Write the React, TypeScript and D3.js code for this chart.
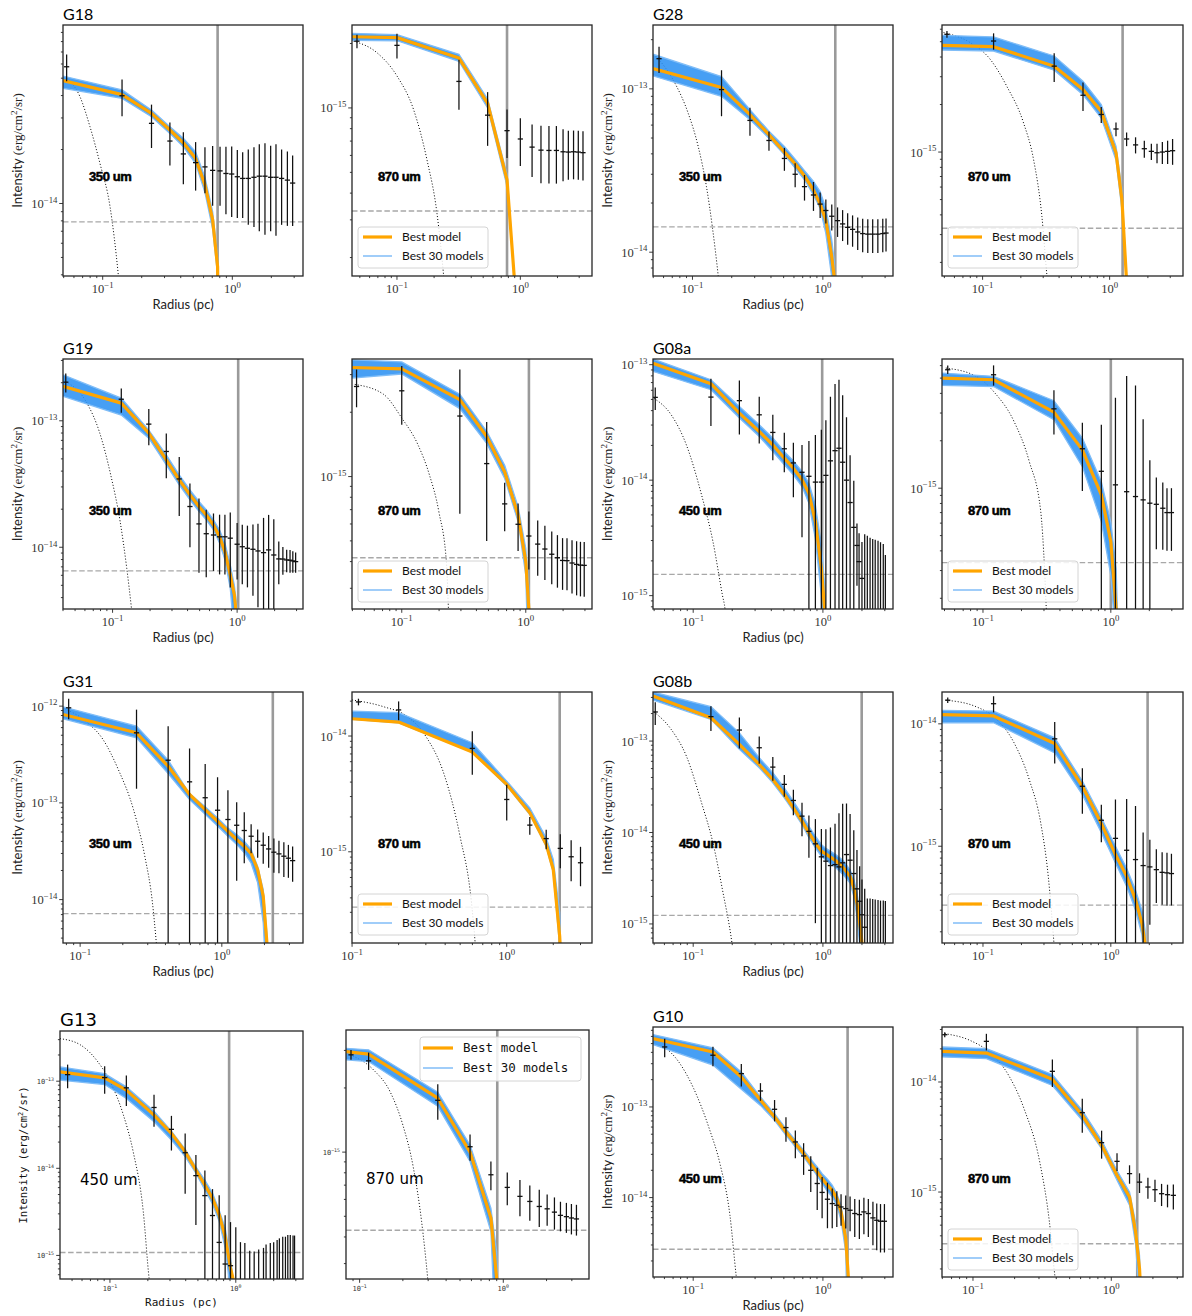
import React from "react";
import * as d3 from "d3";

// Radial intensity profiles: observed points [radius pc, intensity, 1-sigma error],
// best-fit model, envelope of the 30 best models, and the beam profile.
type Obs = [number, number, number];
type XY = [number, number];

// ---------- G18 ----------
const g18_350_obs: Obs[] = [
  [0.0527, 5.79e-14, 0.98e-14], [0.141, 3.99e-14, 0.92e-14], [0.238, 2.8e-14, 0.76e-14],
  [0.33, 2.23e-14, 0.6e-14], [0.419, 1.89e-14, 0.61e-14], [0.521, 1.69e-14, 0.51e-14],
  [0.615, 1.6e-14, 0.46e-14], [0.705, 1.53e-14, 0.56e-14], [0.804, 1.52e-14, 0.55e-14],
  [0.893, 1.47e-14, 0.6e-14], [0.989, 1.46e-14, 0.62e-14], [1.093, 1.41e-14, 0.58e-14],
  [1.202, 1.38e-14, 0.55e-14], [1.328, 1.38e-14, 0.62e-14], [1.469, 1.4e-14, 0.66e-14],
  [1.615, 1.42e-14, 0.72e-14], [1.786, 1.42e-14, 0.75e-14], [1.976, 1.4e-14, 0.7e-14],
  [2.172, 1.4e-14, 0.74e-14], [2.4, 1.38e-14, 0.62e-14], [2.66, 1.35e-14, 0.6e-14],
  [2.92, 1.3e-14, 0.55e-14],
];
const g18_350_r = [0.0494, 0.141, 0.238, 0.33, 0.419, 0.521, 0.615, 0.705, 0.77, 0.8];
const g18_350_best = [4.85e-14, 4.05e-14, 3.18e-14, 2.57e-14, 2.18e-14, 1.78e-14, 1.27e-14, 8.1e-15, 4.43e-15, 1e-16];
const g18_350_hi = [5.14e-14, 4.3e-14, 3.32e-14, 2.68e-14, 2.31e-14, 1.94e-14, 1.4e-14, 9.0e-15, 5.0e-15, 1e-16];
const g18_350_lo = [4.39e-14, 3.86e-14, 3.05e-14, 2.46e-14, 2.07e-14, 1.67e-14, 1.15e-14, 7.2e-15, 4.0e-15, 1e-16];
const g18_350_beam: XY[] = [[0.0527, 4.99e-14], [0.0668, 3.94e-14], [0.0798, 2.68e-14], [0.0953, 1.67e-14], [0.114, 9.57e-15], [0.132, 3.98e-15], [0.14, 2.5e-15]];

const g18_870_obs: Obs[] = [
  [0.0474, 2.05e-15, 0.15e-15], [0.1, 1.96e-15, 0.26e-15], [0.318, 1.33e-15, 0.35e-15],
  [0.543, 9.25e-16, 2.6e-16], [0.78, 7.83e-16, 2.0e-16], [1.0, 7.16e-16, 1.8e-16],
  [1.245, 6.56e-16, 1.8e-16], [1.47, 6.35e-16, 1.9e-16], [1.706, 6.33e-16, 1.9e-16],
  [1.96, 6.33e-16, 1.9e-16], [2.22, 6.24e-16, 1.7e-16], [2.45, 6.22e-16, 1.6e-16],
  [2.7, 6.24e-16, 1.6e-16], [2.95, 6.22e-16, 1.6e-16], [3.22, 6.18e-16, 1.6e-16],
];
const g18_870_r = [0.0432, 0.1, 0.318, 0.543, 0.78, 0.95];
const g18_870_best = [2.15e-15, 2.13e-15, 1.71e-15, 1.05e-15, 4.61e-16, 1e-16];
const g18_870_hi = [2.23e-15, 2.2e-15, 1.78e-15, 1.1e-15, 4.9e-16, 1e-16];
const g18_870_lo = [2.07e-15, 2.06e-15, 1.65e-15, 1.0e-15, 4.3e-16, 1e-16];
const g18_870_beam: XY[] = [[0.0445, 2.05e-15], [0.0689, 1.81e-15], [0.1, 1.41e-15], [0.1365, 9.8e-16], [0.175, 5.73e-16], [0.211, 3.22e-16], [0.239, 1.64e-16], [0.25, 1.2e-16]];

// ---------- G28 ----------
const g28_350_obs: Obs[] = [
  [0.0554, 1.53e-13, 0.28e-13], [0.167, 9.9e-14, 3.1e-14], [0.276, 6.41e-14, 1.25e-14],
  [0.386, 4.83e-14, 6.5e-15], [0.507, 3.75e-14, 6e-15], [0.613, 3.0e-14, 5e-15],
  [0.723, 2.52e-14, 4.5e-15], [0.847, 2.24e-14, 4.5e-15], [0.953, 1.97e-14, 3.5e-15],
  [1.054, 1.8e-14, 3e-15], [1.17, 1.66e-14, 3e-15], [1.296, 1.56e-14, 3.2e-15],
  [1.417, 1.49e-14, 3.2e-15], [1.549, 1.42e-14, 3.1e-15], [1.69, 1.38e-14, 3e-15],
  [1.85, 1.33e-14, 3e-15], [2.02, 1.3e-14, 3e-15], [2.21, 1.29e-14, 3e-15],
  [2.41, 1.29e-14, 3e-15], [2.64, 1.29e-14, 3e-15], [2.88, 1.3e-14, 3e-15], [3.05, 1.31e-14, 3e-15],
];
const g28_350_r = [0.0498, 0.167, 0.276, 0.386, 0.507, 0.613, 0.723, 0.847, 0.953, 1.054, 1.17, 1.22, 1.3];
const g28_350_best = [1.33e-13, 1.02e-13, 6.95e-14, 5.24e-14, 4.1e-14, 3.48e-14, 2.93e-14, 2.4e-14, 1.97e-14, 1.57e-14, 9.35e-15, 7.1e-15, 1e-15];
const g28_350_hi = [1.63e-13, 1.19e-13, 7.46e-14, 5.5e-14, 4.44e-14, 3.71e-14, 3.16e-14, 2.71e-14, 2.35e-14, 1.86e-14, 1.19e-14, 8.9e-15, 1e-15];
const g28_350_lo = [1.2e-13, 9.0e-14, 6.48e-14, 4.99e-14, 3.95e-14, 3.27e-14, 2.77e-14, 2.24e-14, 1.86e-14, 1.3e-14, 7e-15, 1e-15, 1e-15];
const g28_350_beam: XY[] = [[0.0507, 1.63e-13], [0.0731, 1.09e-13], [0.0926, 7.11e-14], [0.1106, 4.44e-14], [0.128, 2.52e-14], [0.142, 1.43e-14], [0.1576, 7.15e-15], [0.165, 5e-15]];

const g28_870_obs: Obs[] = [
  [0.0524, 5.57e-15, 0.27e-15], [0.122, 5.05e-15, 0.6e-15], [0.366, 3.5e-15, 0.72e-15],
  [0.617, 2.29e-15, 0.47e-15], [0.859, 1.73e-15, 0.2e-15], [1.122, 1.4e-15, 0.14e-15],
  [1.36, 1.21e-15, 0.12e-15], [1.6, 1.11e-15, 0.13e-15], [1.875, 1.05e-15, 0.13e-15],
  [2.13, 1.01e-15, 0.12e-15], [2.36, 0.99e-15, 0.14e-15], [2.6, 1.0e-15, 0.16e-15],
  [2.86, 1.01e-15, 0.17e-15], [3.13, 1.02e-15, 0.19e-15],
];
const g28_870_r = [0.0479, 0.122, 0.366, 0.617, 0.859, 1.122, 1.25, 1.4];
const g28_870_best = [4.74e-15, 4.65e-15, 3.5e-15, 2.49e-15, 1.81e-15, 0.99e-15, 4.98e-16, 1e-16];
const g28_870_hi = [5.49e-15, 5.36e-15, 4.06e-15, 2.81e-15, 2.0e-15, 1.09e-15, 5.76e-16, 1e-16];
const g28_870_lo = [4.43e-15, 4.36e-15, 3.3e-15, 2.31e-15, 1.64e-15, 0.89e-15, 4.3e-16, 1e-16];
const g28_870_beam: XY[] = [[0.0493, 5.71e-15], [0.08, 4.93e-15], [0.115, 3.86e-15], [0.155, 2.61e-15], [0.21, 1.53e-15], [0.252, 8.94e-16], [0.293, 3.9e-16], [0.321, 1.64e-16], [0.33, 1.3e-16]];

// ---------- G19 ----------
const g19_350_obs: Obs[] = [
  [0.0421, 2.02e-13, 0.35e-13], [0.1175, 1.48e-13, 0.32e-13], [0.1954, 9.41e-14, 3.0e-14],
  [0.27, 5.72e-14, 2.2e-14], [0.343, 3.47e-14, 1.7e-14], [0.418, 2.1e-14, 1.1e-14],
  [0.494, 1.53e-14, 9e-15], [0.565, 1.28e-14, 7e-15], [0.646, 1.25e-14, 6e-15],
  [0.723, 1.21e-14, 6e-15], [0.798, 1.21e-14, 6e-15], [0.881, 1.18e-14, 7e-15],
  [1.0, 1.057e-14, 5e-15], [1.1, 1.01e-14, 5e-15], [1.21, 9.82e-15, 5e-15],
  [1.34, 9.64e-15, 5.5e-15], [1.47, 9.35e-15, 6e-15], [1.63, 9.07e-15, 8e-15],
  [1.79, 9.53e-15, 8.5e-15], [1.97, 8.69e-15, 8e-15], [2.16, 8.09e-15, 3e-15],
  [2.33, 8.07e-15, 2e-15], [2.5, 7.94e-15, 1.6e-15], [2.66, 7.9e-15, 1.6e-15],
  [2.8, 7.8e-15, 1.5e-15], [2.95, 7.7e-15, 1.4e-15],
];
const g19_350_r = [0.04, 0.1175, 0.1954, 0.27, 0.343, 0.418, 0.494, 0.565, 0.646, 0.723, 0.798, 0.881, 0.95, 1.0, 1.03];
const g19_350_best = [1.87e-13, 1.38e-13, 7.98e-14, 4.91e-14, 3.41e-14, 2.6e-14, 2.1e-14, 1.8e-14, 1.5e-14, 1.21e-14, 9.24e-15, 6.04e-15, 4.2e-15, 2.6e-15, 1e-16];
const g19_350_hi = [2.31e-13, 1.51e-13, 8.45e-14, 5.38e-14, 3.74e-14, 2.84e-14, 2.3e-14, 1.98e-14, 1.65e-14, 1.37e-14, 1.08e-14, 7.27e-15, 5.0e-15, 3.3e-15, 1e-16];
const g19_350_lo = [1.56e-13, 1.11e-13, 7.29e-14, 4.49e-14, 3.12e-14, 2.37e-14, 1.92e-14, 1.65e-14, 1.37e-14, 1.08e-14, 7.97e-15, 4.73e-15, 2e-15, 1e-16, 1e-16];
const g19_350_beam: XY[] = [[0.0421, 2.05e-13], [0.0633, 1.34e-13], [0.0782, 8.23e-14], [0.0966, 3.74e-14], [0.115, 1.6e-14], [0.13, 6.82e-15], [0.142, 3.25e-15], [0.146, 2.5e-15]];

const g19_870_obs: Obs[] = [
  [0.0432, 2.64e-15, 0.53e-15], [0.1, 2.52e-15, 0.77e-15], [0.294, 1.92e-15, 1.25e-15],
  [0.484, 1.15e-15, 0.65e-15], [0.676, 7.45e-16, 1.9e-16], [0.867, 5.98e-16, 1.5e-16],
  [1.059, 5.27e-16, 1.6e-16], [1.248, 4.83e-16, 1.4e-16], [1.426, 4.58e-16, 1.3e-16],
  [1.62, 4.33e-16, 1.2e-16], [1.8, 4.17e-16, 1.15e-16], [1.98, 4.05e-16, 1.1e-16],
  [2.15, 4.04e-16, 1.1e-16], [2.36, 3.94e-16, 1.1e-16], [2.57, 3.88e-16, 1.1e-16],
  [2.76, 3.85e-16, 1.1e-16], [2.96, 3.84e-16, 1.1e-16],
];
const g19_870_r = [0.0397, 0.1, 0.294, 0.484, 0.676, 0.867, 1.0, 1.059, 1.1];
const g19_870_best = [3.24e-15, 3.19e-15, 2.29e-15, 1.54e-15, 1.05e-15, 6.61e-16, 4.0e-16, 2.4e-16, 1e-16];
const g19_870_hi = [3.52e-15, 3.44e-15, 2.43e-15, 1.63e-15, 1.13e-15, 7.23e-16, 4.61e-16, 3.0e-16, 1e-16];
const g19_870_lo = [2.89e-15, 3.02e-15, 2.08e-15, 1.43e-15, 0.98e-15, 6.15e-16, 3.46e-16, 1e-16, 1e-16];
const g19_870_beam: XY[] = [[0.0418, 2.7e-15], [0.0711, 2.43e-15], [0.1, 1.88e-15], [0.135, 1.41e-15], [0.167, 1.02e-15], [0.199, 6.86e-16], [0.23, 3.86e-16], [0.238, 2.4e-16], [0.242, 2e-16]];

// ---------- G08a ----------
const g08a_450_obs: Obs[] = [
  [0.051, 5.21e-14, 1.15e-14], [0.137, 5.24e-14, 2.3e-14], [0.227, 4.88e-14, 2.4e-14],
  [0.323, 3.68e-14, 1.6e-14], [0.411, 2.59e-14, 1.1e-14], [0.504, 1.87e-14, 7e-15],
  [0.592, 1.41e-14, 7e-15], [0.69, 1.17e-14, 8.5e-15], [0.78, 1.08e-14, 1.1e-14],
  [0.875, 9.62e-15, 1.5e-14], [0.973, 9.62e-15, 1.77e-14], [1.054, 1.1e-14, 2.2e-14],
  [1.143, 1.47e-14, 3.8e-14], [1.24, 1.8e-14, 5.0e-14], [1.33, 1.89e-14, 5.5e-14],
  [1.42, 1.43e-14, 4.0e-14], [1.52, 1.0e-14, 2.5e-14], [1.62, 6.4e-15, 1.0e-14],
  [1.73, 3.9e-15, 6e-15], [1.83, 2.72e-15, 1.5e-15], [1.9, 1.97e-15, 1.5e-15],
  [2.0, 1.41e-15, 1.5e-15], [2.1, 5e-16, 2.9e-15], [2.2, 5e-16, 2.8e-15],
  [2.31, 5e-16, 2.67e-15], [2.42, 5e-16, 2.6e-15], [2.53, 5e-16, 2.54e-15],
  [2.66, 5e-16, 2.48e-15], [2.78, 5e-16, 2.4e-15], [2.92, 5e-16, 2.3e-15], [3.03, 5e-16, 1.75e-15],
];
const g08a_450_r = [0.049, 0.137, 0.227, 0.323, 0.411, 0.504, 0.592, 0.69, 0.78, 0.875, 0.973, 1.03, 1.1];
const g08a_450_best = [1.03e-13, 6.84e-14, 3.81e-14, 2.64e-14, 2.02e-14, 1.55e-14, 1.27e-14, 1.01e-14, 7.71e-15, 4.38e-15, 1.73e-15, 7.66e-16, 1e-16];
const g08a_450_hi = [1.12e-13, 7.41e-14, 4.35e-14, 3.02e-14, 2.32e-14, 1.77e-14, 1.47e-14, 1.19e-14, 9.4e-15, 6.1e-15, 2.75e-15, 1.24e-15, 1e-16];
const g08a_450_lo = [8.75e-14, 6.07e-14, 3.45e-14, 2.39e-14, 1.77e-14, 1.36e-14, 1.11e-14, 8.8e-15, 6.3e-15, 3.1e-15, 1.0e-15, 1e-16, 1e-16];
const g08a_450_beam: XY[] = [[0.05, 5.1e-14], [0.0677, 3.68e-14], [0.0886, 2.02e-14], [0.116, 7.46e-15], [0.142, 2.94e-15], [0.168, 1.01e-15], [0.176, 7.66e-16], [0.18, 6e-16]];

const g08a_870_obs: Obs[] = [
  [0.053, 5.65e-15, 0.35e-15], [0.121, 5.25e-15, 0.77e-15], [0.359, 3.19e-15, 1.0e-15],
  [0.599, 1.78e-15, 0.82e-15], [0.843, 1.28e-15, 1.25e-15], [1.087, 1.05e-15, 2.7e-15],
  [1.33, 9.5e-16, 4.2e-15], [1.56, 8.85e-16, 3.6e-15], [1.79, 8.43e-16, 1.9e-15],
  [2.02, 8.03e-16, 0.7e-15], [2.27, 7.9e-16, 0.38e-15], [2.55, 7.46e-16, 0.34e-15],
  [2.75, 7.0e-16, 0.3e-15], [2.98, 7.0e-16, 0.3e-15],
];
const g08a_870_r = [0.0478, 0.121, 0.359, 0.599, 0.843, 1.0, 1.1, 1.15];
const g08a_870_best = [5.0e-15, 4.88e-15, 3.04e-15, 1.75e-15, 9.07e-16, 4.58e-16, 1.71e-16, 1e-16];
const g08a_870_hi = [5.38e-15, 5.13e-15, 3.59e-15, 2.08e-15, 1.1e-15, 6.1e-16, 3.1e-16, 1e-16];
const g08a_870_lo = [4.5e-15, 4.42e-15, 2.72e-15, 1.37e-15, 6.14e-16, 2.8e-16, 1e-16, 1e-16];
const g08a_870_beam: XY[] = [[0.0512, 5.79e-15], [0.0884, 5.13e-15], [0.124, 4.02e-15], [0.175, 2.65e-15], [0.23, 1.48e-15], [0.283, 7.11e-16], [0.303, 3.1e-16], [0.313, 1.71e-16], [0.318, 1.4e-16]];

// ---------- G31 ----------
const g31_350_obs: Obs[] = [
  [0.083, 9.61e-13, 2.3e-13], [0.25, 5.3e-13, 3.9e-13], [0.418, 2.76e-13, 3.45e-13],
  [0.592, 1.65e-13, 2.0e-13], [0.763, 1.13e-13, 1.4e-13], [0.933, 8.39e-14, 1.0e-13],
  [1.104, 6.73e-14, 6.8e-14], [1.273, 5.87e-14, 4.3e-14], [1.44, 5.18e-14, 2.8e-14],
  [1.61, 4.52e-14, 1.5e-14], [1.79, 4.01e-14, 1.3e-14], [1.96, 3.65e-14, 1.3e-14],
  [2.14, 3.34e-14, 1.2e-14], [2.33, 3.09e-14, 1.2e-14], [2.53, 2.97e-14, 1.1e-14],
  [2.74, 2.81e-14, 1.1e-14], [2.95, 2.68e-14, 1.0e-14], [3.16, 2.53e-14, 1.0e-14],
];
const g31_350_r = [0.0757, 0.25, 0.418, 0.592, 0.763, 0.933, 1.104, 1.273, 1.44, 1.61, 1.79, 1.96, 2.08, 2.2];
const g31_350_best = [8.2e-13, 5.3e-13, 2.39e-13, 1.22e-13, 8.53e-14, 6.46e-14, 5.09e-14, 4.18e-14, 3.56e-14, 2.99e-14, 2.04e-14, 1.08e-14, 3.56e-15, 1e-15];
const g31_350_hi = [9.85e-13, 6.21e-13, 2.76e-13, 1.25e-13, 9.1e-14, 7.0e-14, 5.5e-14, 4.7e-14, 4.01e-14, 3.3e-14, 2.2e-14, 1.27e-14, 4.47e-15, 1e-15];
const g31_350_lo = [7.4e-13, 4.7e-13, 2.01e-13, 1.08e-13, 7.6e-14, 5.75e-14, 4.52e-14, 3.72e-14, 3.05e-14, 2.38e-14, 1.49e-14, 5.74e-15, 1e-15, 1e-15];
const g31_350_beam: XY[] = [[0.078, 9.4e-13], [0.113, 6.73e-13], [0.145, 4.52e-13], [0.186, 2.21e-13], [0.238, 8.53e-14], [0.286, 2.81e-14], [0.324, 9.24e-15], [0.345, 3.56e-15], [0.35, 2.8e-15]];

const g31_870_obs: Obs[] = [
  [0.11, 1.97e-14, 1.3e-15], [0.2, 1.68e-14, 3.1e-15], [0.599, 7.82e-15, 3.2e-15],
  [1.0, 2.83e-15, 0.97e-15], [1.41, 1.7e-15, 0.3e-15], [1.8, 1.3e-15, 0.25e-15],
  [2.22, 1.07e-15, 0.35e-15], [2.61, 9.06e-16, 0.35e-15], [3.0, 8.04e-16, 0.3e-15],
];
const g31_870_r = [0.0999, 0.2, 0.599, 1.0, 1.41, 1.8, 2.0, 2.2, 2.25];
const g31_870_best = [1.41e-14, 1.32e-14, 7.27e-15, 3.82e-15, 2.17e-15, 1.16e-15, 7.03e-16, 1.87e-16, 1e-16];
const g31_870_hi = [1.64e-14, 1.59e-14, 8.75e-15, 4.08e-15, 2.4e-15, 1.32e-15, 8.6e-16, 2.97e-16, 1e-16];
const g31_870_lo = [1.39e-14, 1.3e-14, 7.27e-15, 3.7e-15, 2.1e-15, 1.11e-15, 6.6e-16, 1.5e-16, 1e-16];
const g31_870_beam: XY[] = [[0.1, 2.05e-14], [0.16, 1.79e-14], [0.225, 1.49e-14], [0.299, 1e-14], [0.397, 4.51e-15], [0.499, 1.36e-15], [0.592, 3.62e-16], [0.625, 1.63e-16], [0.63, 1.4e-16]];

// ---------- G08b ----------
const g08b_450_obs: Obs[] = [
  [0.051, 2.08e-13, 5.8e-14], [0.137, 1.85e-13, 5.6e-14], [0.227, 1.32e-13, 4.9e-14],
  [0.323, 8.45e-14, 2.8e-14], [0.411, 5.19e-14, 1.5e-14], [0.504, 3.36e-14, 9e-15],
  [0.592, 2.24e-14, 7e-15], [0.69, 1.51e-14, 6e-15], [0.78, 1.03e-14, 5e-15],
  [0.875, 7.52e-15, 6.5e-15], [0.973, 5.42e-15, 5.5e-15], [1.054, 4.86e-15, 6e-15],
  [1.143, 4.35e-15, 7e-15], [1.24, 4.45e-15, 8e-15], [1.33, 4.21e-15, 1.2e-14],
  [1.42, 4.66e-15, 1.6e-14], [1.52, 5.74e-15, 1.5e-14], [1.62, 4.98e-15, 1.1e-14],
  [1.73, 3.56e-15, 7e-15], [1.83, 2.42e-15, 4e-15], [1.92, 1.77e-15, 2.5e-15],
  [2.0, 1.26e-15, 1.8e-15], [2.1, 9.2e-16, 1.5e-15], [2.2, 4e-16, 1.5e-15],
  [2.31, 4e-16, 1.5e-15], [2.42, 4e-16, 1.48e-15], [2.53, 4e-16, 1.45e-15],
  [2.66, 4e-16, 1.43e-15], [2.78, 4e-16, 1.4e-15], [2.92, 4e-16, 1.4e-15], [3.03, 4e-16, 1.38e-15],
];
const g08b_450_r = [0.049, 0.137, 0.227, 0.323, 0.411, 0.504, 0.592, 0.69, 0.78, 0.875, 0.973, 1.054, 1.24, 1.42, 1.62, 1.73, 1.83, 1.92, 2.0, 2.05];
const g08b_450_best = [3.11e-13, 1.8e-13, 9.2e-14, 5.55e-14, 3.8e-14, 2.61e-14, 1.86e-14, 1.33e-14, 9.92e-15, 7.71e-15, 6.25e-15, 5.8e-15, 5.0e-15, 4.2e-15, 3.33e-15, 2.48e-15, 1.7e-15, 1.03e-15, 6.2e-16, 1e-16];
const g08b_450_hi = [3.44e-13, 2.38e-13, 1.23e-13, 6.57e-14, 4.5e-14, 3.08e-14, 2.2e-14, 1.57e-14, 1.17e-14, 9.1e-15, 7.4e-15, 6.7e-15, 5.8e-15, 5.0e-15, 3.9e-15, 3.1e-15, 2.2e-15, 1.43e-15, 7.9e-16, 1e-16];
const g08b_450_lo = [2.81e-13, 1.73e-13, 8.11e-14, 5.1e-14, 3.5e-14, 2.39e-14, 1.71e-14, 1.22e-14, 8.78e-15, 6.8e-15, 5.5e-15, 5.0e-15, 4.2e-15, 3.5e-15, 2.8e-15, 2.0e-15, 1.2e-15, 6e-16, 1e-16, 1e-16];
const g08b_450_beam: XY[] = [[0.05, 2.08e-13], [0.0677, 1.34e-13], [0.0886, 6.85e-14], [0.116, 2.11e-14], [0.142, 7.71e-15], [0.168, 2.38e-15], [0.199, 6.19e-16], [0.205, 4.5e-16]];

const g08b_870_obs: Obs[] = [
  [0.053, 1.56e-14, 0.8e-15], [0.121, 1.46e-14, 2.2e-15], [0.364, 7.54e-15, 2.8e-15],
  [0.599, 3.09e-15, 1.25e-15], [0.843, 1.63e-15, 0.55e-15], [1.087, 1.16e-15, 1.25e-15],
  [1.33, 9.27e-16, 1.5e-15], [1.56, 7.78e-16, 1.35e-15], [1.79, 6.95e-16, 0.6e-15],
  [2.02, 6.78e-16, 0.45e-15], [2.27, 6.44e-16, 0.3e-15], [2.52, 6.12e-16, 0.28e-15],
  [2.75, 6.06e-16, 0.28e-15], [2.98, 5.98e-16, 0.27e-15],
];
const g08b_870_r = [0.0478, 0.121, 0.364, 0.599, 0.843, 1.087, 1.33, 1.56, 1.75, 1.85, 1.95];
const g08b_870_best = [1.19e-14, 1.16e-14, 6.9e-15, 3.09e-15, 1.53e-15, 8.55e-16, 5.69e-16, 3.66e-16, 2.36e-16, 1.62e-16, 1e-16];
const g08b_870_hi = [1.29e-14, 1.27e-14, 7.69e-15, 3.4e-15, 1.71e-15, 1.0e-15, 6.6e-16, 4.4e-16, 3.0e-16, 2.1e-16, 1e-16];
const g08b_870_lo = [1.02e-14, 1.02e-14, 5.79e-15, 2.64e-15, 1.29e-15, 7.3e-16, 4.7e-16, 3.0e-16, 1.9e-16, 1e-16, 1e-16];
const g08b_870_beam: XY[] = [[0.0512, 1.56e-14], [0.0884, 1.38e-14], [0.124, 1.12e-14], [0.175, 7.0e-15], [0.23, 3.51e-15], [0.283, 1.55e-15], [0.324, 5.69e-16], [0.359, 1.62e-16], [0.365, 1.3e-16]];

// ---------- G13 ----------
const g13_450_obs: Obs[] = [
  [0.0461, 1.19e-13, 3.6e-14], [0.0908, 1.1e-13, 3.8e-14], [0.135, 8.39e-14, 3.2e-14],
  [0.224, 4.99e-14, 2.0e-14], [0.308, 2.8e-14, 1.2e-14], [0.396, 1.51e-14, 1.0e-14],
  [0.482, 8.24e-15, 6e-15], [0.568, 4.86e-15, 4.6e-15], [0.653, 2.87e-15, 2.9e-15],
  [0.738, 1.41e-15, 3.5e-15], [0.823, 7.96e-16, 2.1e-15], [0.908, 7.62e-16, 1.65e-15],
  [1.0, 3e-16, 1.8e-15], [1.089, 3e-16, 1.12e-15], [1.18, 3e-16, 1.09e-15],
  [1.29, 3e-16, 0.83e-15], [1.4, 3e-16, 0.81e-15], [1.52, 3e-16, 0.87e-15],
  [1.66, 3e-16, 0.92e-15], [1.74, 3e-16, 1.03e-15], [1.88, 3e-16, 1.09e-15],
  [2.0, 3e-16, 1.12e-15], [2.13, 3e-16, 1.2e-15], [2.22, 3e-16, 1.27e-15],
  [2.36, 3e-16, 1.34e-15], [2.48, 3e-16, 1.34e-15], [2.59, 3e-16, 1.41e-15],
  [2.71, 3e-16, 1.41e-15], [2.85, 3e-16, 1.39e-15], [2.93, 3e-16, 1.39e-15],
];
const g13_450_r = [0.0401, 0.0908, 0.135, 0.224, 0.308, 0.396, 0.482, 0.568, 0.653, 0.738, 0.823, 0.908, 0.95, 1.0];
const g13_450_best = [1.28e-13, 1.09e-13, 7.89e-14, 4.08e-14, 2.52e-14, 1.55e-14, 9.57e-15, 6.44e-15, 4.53e-15, 2.92e-15, 1.65e-15, 7.16e-16, 5.4e-16, 1e-16];
const g13_450_hi = [1.46e-13, 1.22e-13, 8.61e-14, 4.53e-14, 2.67e-14, 1.66e-14, 1.04e-14, 7.3e-15, 5.2e-15, 3.3e-15, 2.07e-15, 9.3e-16, 5.4e-16, 1e-16];
const g13_450_lo = [1.03e-13, 9.16e-14, 6.33e-14, 3.42e-14, 2.11e-14, 1.36e-14, 8.8e-15, 5.65e-15, 3.9e-15, 2.46e-15, 1.22e-15, 4e-16, 1e-16, 1e-16];
const g13_450_beam: XY[] = [[0.0401, 3.08e-13], [0.0578, 2.63e-13], [0.0784, 1.74e-13], [0.1, 1e-13], [0.128, 4.08e-14], [0.153, 1.55e-14], [0.184, 3.19e-15], [0.205, 5.36e-16], [0.208, 4.5e-16]];

const g13_870_obs: Obs[] = [
  [0.0871, 2.86e-15, 0.15e-15], [0.1155, 2.68e-15, 0.25e-15], [0.35, 1.75e-15, 0.33e-15],
  [0.587, 1.06e-15, 0.15e-15], [0.82, 7.83e-16, 1.2e-16], [1.066, 6.83e-16, 1.2e-16],
  [1.306, 6.2e-16, 1.2e-16], [1.53, 5.87e-16, 1.1e-16], [1.78, 5.56e-16, 1.1e-16],
  [2.02, 5.42e-16, 0.9e-16], [2.27, 5.23e-16, 0.9e-16], [2.5, 5.05e-16, 0.8e-16],
  [2.75, 4.98e-16, 0.8e-16], [2.98, 4.91e-16, 0.8e-16], [3.23, 4.86e-16, 0.8e-16],
];
const g13_870_r = [0.0804, 0.1155, 0.35, 0.587, 0.82, 0.9, 0.95];
const g13_870_best = [2.96e-15, 2.88e-15, 1.79e-15, 1.0e-15, 4.91e-16, 2.54e-16, 1e-16];
const g13_870_hi = [3.07e-15, 3.02e-15, 1.91e-15, 1.08e-15, 5.46e-16, 3.4e-16, 1e-16];
const g13_870_lo = [2.71e-15, 2.66e-15, 1.64e-15, 9.04e-16, 4.24e-16, 1e-16, 1e-16];
const g13_870_beam: XY[] = [[0.086, 2.86e-15], [0.125, 2.43e-15], [0.163, 1.92e-15], [0.2, 1.34e-15], [0.237, 8.41e-16], [0.27, 4.73e-16], [0.298, 2.54e-16], [0.302, 2.3e-16]];

// ---------- G10 ----------
const g10_450_obs: Obs[] = [
  [0.0603, 4.59e-13, 1.05e-13], [0.142, 3.72e-13, 9e-14], [0.235, 2.33e-13, 6.5e-14],
  [0.33, 1.5e-13, 3.3e-14], [0.424, 9.42e-14, 2.5e-14], [0.519, 5.92e-14, 1.8e-14],
  [0.613, 4.11e-14, 1.4e-14], [0.71, 2.88e-14, 1.1e-14], [0.806, 2.0e-14, 8.5e-15],
  [0.904, 1.43e-14, 7e-15], [0.986, 1.14e-14, 5.5e-15], [1.084, 9.59e-15, 5e-15],
  [1.18, 8.59e-15, 4e-15], [1.28, 8.23e-15, 3.5e-15], [1.38, 7.88e-15, 3e-15],
  [1.5, 7.56e-15, 3e-15], [1.62, 7.25e-15, 3e-15], [1.76, 6.67e-15, 3e-15],
  [1.91, 6.49e-15, 3e-15], [2.07, 6.95e-15, 3e-15], [2.24, 6.67e-15, 3e-15],
  [2.43, 5.97e-15, 3e-15], [2.6, 5.62e-15, 3e-15], [2.78, 5.48e-15, 3e-15], [2.98, 5.48e-15, 3e-15],
];
const g10_450_r = [0.049, 0.142, 0.235, 0.33, 0.424, 0.519, 0.613, 0.71, 0.806, 0.904, 0.986, 1.084, 1.18, 1.28, 1.38, 1.5, 1.57, 1.62];
const g10_450_best = [5.67e-13, 4.04e-13, 2.14e-13, 1.19e-13, 7.76e-14, 5.3e-14, 3.94e-14, 3.06e-14, 2.37e-14, 1.92e-14, 1.62e-14, 1.37e-14, 1.2e-14, 9.75e-15, 6.95e-15, 3.53e-15, 1.33e-15, 1e-16];
const g10_450_hi = [6.28e-13, 4.48e-13, 2.43e-13, 1.29e-13, 8.44e-14, 5.77e-14, 4.29e-14, 3.33e-14, 2.65e-14, 2.18e-14, 1.84e-14, 1.6e-14, 1.37e-14, 1.11e-14, 8.2e-15, 4.2e-15, 1.95e-15, 1e-16];
const g10_450_lo = [4.87e-13, 2.9e-13, 1.57e-13, 1.04e-13, 7.13e-14, 4.87e-14, 3.62e-14, 2.81e-14, 2.18e-14, 1.74e-14, 1.43e-14, 1.17e-14, 1.02e-14, 8.2e-15, 5.6e-15, 2.5e-15, 1e-16, 1e-16];
const g10_450_beam: XY[] = [[0.0603, 4.59e-13], [0.0774, 3.14e-13], [0.101, 1.59e-13], [0.133, 5.77e-14], [0.162, 2.27e-14], [0.192, 6.38e-15], [0.215, 1.33e-15], [0.22, 1e-15]];

const g10_870_obs: Obs[] = [
  [0.0625, 2.69e-14, 1.4e-15], [0.125, 2.34e-14, 4e-15], [0.375, 1.25e-14, 3.5e-15],
  [0.617, 5.26e-15, 1.8e-15], [0.851, 2.81e-15, 0.8e-15], [1.1, 1.9e-15, 0.35e-15],
  [1.355, 1.47e-15, 0.28e-15], [1.6, 1.23e-15, 0.25e-15], [1.84, 1.11e-15, 0.24e-15],
  [2.07, 1.05e-15, 0.24e-15], [2.31, 9.66e-16, 0.22e-15], [2.55, 9.46e-16, 0.22e-15],
  [2.81, 9.33e-16, 0.24e-15],
];
const g10_870_r = [0.0597, 0.125, 0.375, 0.617, 0.851, 1.1, 1.355, 1.5, 1.6, 1.65];
const g10_870_best = [1.9e-14, 1.83e-14, 1.06e-14, 4.98e-15, 2.66e-15, 1.42e-15, 9.0e-16, 4.33e-16, 2.01e-16, 1e-16];
const g10_870_hi = [2.08e-14, 2.01e-14, 1.17e-14, 5.52e-15, 2.95e-15, 1.57e-15, 1.0e-15, 5.3e-16, 2.66e-16, 1e-16];
const g10_870_lo = [1.69e-14, 1.63e-14, 9.3e-15, 4.48e-15, 2.48e-15, 1.28e-15, 7.6e-16, 3.3e-16, 1e-16, 1e-16];
const g10_870_beam: XY[] = [[0.0625, 2.75e-14], [0.095, 2.39e-14], [0.131, 1.87e-14], [0.181, 1.15e-14], [0.234, 5.72e-15], [0.304, 1.87e-15], [0.357, 5.34e-16], [0.392, 1.69e-16], [0.4, 1.4e-16]];

// ---------- panel layout ----------
interface Box { l: number; t: number; r: number; b: number }
interface PanelDef {
  title?: string;
  band: string;
  style: "tex" | "mono";
  box: Box;
  xDomain: [number, number];
  yDomain: [number, number];
  obs: Obs[];
  modelR: number[];
  best: number[];
  hi: number[];
  lo: number[];
  beam: XY[];
  cutoff: number;
  floor: number;
  axisLabels: boolean;
  legend: "lower" | "upper" | null;
}

const colX: [number, number][] = [[63, 303], [352, 592], [653, 893], [942, 1183]];
const rowY: [number, number][] = [[25, 276], [359, 609], [692, 943], [1027, 1277]];
const bx = (c: number, r: number): Box => ({ l: colX[c][0], t: rowY[r][0], r: colX[c][1], b: rowY[r][1] });

const panels: PanelDef[] = [
  { title: "G18", band: "350 um", style: "tex", box: bx(0, 0), xDomain: [0.0494, 3.51], yDomain: [3.94e-15, 0.99e-13], obs: g18_350_obs, modelR: g18_350_r, best: g18_350_best, hi: g18_350_hi, lo: g18_350_lo, beam: g18_350_beam, cutoff: 0.77, floor: 7.9e-15, axisLabels: true, legend: null },
  { band: "870 um", style: "tex", box: bx(1, 0), xDomain: [0.0432, 3.81], yDomain: [1.64e-16, 2.44e-15], obs: g18_870_obs, modelR: g18_870_r, best: g18_870_best, hi: g18_870_hi, lo: g18_870_lo, beam: g18_870_beam, cutoff: 0.78, floor: 3.3e-16, axisLabels: false, legend: "lower" },
  { title: "G28", band: "350 um", style: "tex", box: bx(2, 0), xDomain: [0.0498, 3.45], yDomain: [7.15e-15, 2.46e-13], obs: g28_350_obs, modelR: g28_350_r, best: g28_350_best, hi: g28_350_hi, lo: g28_350_lo, beam: g28_350_beam, cutoff: 1.245, floor: 1.43e-14, axisLabels: true, legend: null },
  { band: "870 um", style: "tex", box: bx(3, 0), xDomain: [0.0479, 3.78], yDomain: [1.64e-16, 6.38e-15], obs: g28_870_obs, modelR: g28_870_r, best: g28_870_best, hi: g28_870_hi, lo: g28_870_lo, beam: g28_870_beam, cutoff: 1.265, floor: 3.29e-16, axisLabels: false, legend: "lower" },
  { title: "G19", band: "350 um", style: "tex", box: bx(0, 1), xDomain: [0.04, 3.38], yDomain: [3.25e-15, 3.08e-13], obs: g19_350_obs, modelR: g19_350_r, best: g19_350_best, hi: g19_350_hi, lo: g19_350_lo, beam: g19_350_beam, cutoff: 1.02, floor: 6.5e-15, axisLabels: true, legend: null },
  { band: "870 um", style: "tex", box: bx(1, 1), xDomain: [0.0397, 3.42], yDomain: [2.4e-16, 3.55e-15], obs: g19_870_obs, modelR: g19_870_r, best: g19_870_best, hi: g19_870_hi, lo: g19_870_lo, beam: g19_870_beam, cutoff: 1.06, floor: 4.17e-16, axisLabels: false, legend: "lower" },
  { title: "G08a", band: "450 um", style: "tex", box: bx(2, 1), xDomain: [0.049, 3.47], yDomain: [7.66e-16, 1.12e-13], obs: g08a_450_obs, modelR: g08a_450_r, best: g08a_450_best, hi: g08a_450_hi, lo: g08a_450_lo, beam: g08a_450_beam, cutoff: 0.987, floor: 1.53e-15, axisLabels: true, legend: null },
  { band: "870 um", style: "tex", box: bx(3, 1), xDomain: [0.0478, 3.67], yDomain: [1.71e-16, 6.61e-15], obs: g08a_870_obs, modelR: g08a_870_r, best: g08a_870_best, hi: g08a_870_hi, lo: g08a_870_lo, beam: g08a_870_beam, cutoff: 1.0, floor: 3.37e-16, axisLabels: false, legend: "lower" },
  { title: "G31", band: "350 um", style: "tex", box: bx(0, 2), xDomain: [0.0757, 3.74], yDomain: [3.56e-15, 1.4e-12], obs: g31_350_obs, modelR: g31_350_r, best: g31_350_best, hi: g31_350_hi, lo: g31_350_lo, beam: g31_350_beam, cutoff: 2.29, floor: 7.16e-15, axisLabels: true, legend: null },
  { band: "870 um", style: "tex", box: bx(1, 2), xDomain: [0.0999, 3.56], yDomain: [1.63e-16, 2.4e-14], obs: g31_870_obs, modelR: g31_870_r, best: g31_870_best, hi: g31_870_hi, lo: g31_870_lo, beam: g31_870_beam, cutoff: 2.2, floor: 3.33e-16, axisLabels: false, legend: "lower" },
  { title: "G08b", band: "450 um", style: "tex", box: bx(2, 2), xDomain: [0.049, 3.47], yDomain: [6.19e-16, 3.44e-13], obs: g08b_450_obs, modelR: g08b_450_r, best: g08b_450_best, hi: g08b_450_hi, lo: g08b_450_lo, beam: g08b_450_beam, cutoff: 1.99, floor: 1.24e-15, axisLabels: true, legend: null },
  { band: "870 um", style: "tex", box: bx(3, 2), xDomain: [0.0478, 3.67], yDomain: [1.62e-16, 1.82e-14], obs: g08b_870_obs, modelR: g08b_870_r, best: g08b_870_best, hi: g08b_870_hi, lo: g08b_870_lo, beam: g08b_870_beam, cutoff: 1.94, floor: 3.3e-16, axisLabels: false, legend: "lower" },
  { title: "G13", band: "450 um", style: "mono", box: { l: 60, t: 1031, r: 303, b: 1279 }, xDomain: [0.0401, 3.42], yDomain: [5.36e-16, 3.77e-13], obs: g13_450_obs, modelR: g13_450_r, best: g13_450_best, hi: g13_450_hi, lo: g13_450_lo, beam: g13_450_beam, cutoff: 0.885, floor: 1.08e-15, axisLabels: true, legend: null },
  { band: "870 um", style: "mono", box: { l: 346, t: 1030, r: 589, b: 1279 }, xDomain: [0.0804, 3.95], yDomain: [2.54e-16, 3.74e-15], obs: g13_870_obs, modelR: g13_870_r, best: g13_870_best, hi: g13_870_hi, lo: g13_870_lo, beam: g13_870_beam, cutoff: 0.908, floor: 4.3e-16, axisLabels: false, legend: "upper" },
  { title: "G10", band: "450 um", style: "tex", box: bx(2, 3), xDomain: [0.049, 3.47], yDomain: [1.33e-15, 7.62e-13], obs: g10_450_obs, modelR: g10_450_r, best: g10_450_best, hi: g10_450_hi, lo: g10_450_lo, beam: g10_450_beam, cutoff: 1.55, floor: 2.69e-15, axisLabels: true, legend: null },
  { band: "870 um", style: "tex", box: bx(3, 3), xDomain: [0.0597, 3.3], yDomain: [1.69e-16, 3.16e-14], obs: g10_870_obs, modelR: g10_870_r, best: g10_870_best, hi: g10_870_hi, lo: g10_870_lo, beam: g10_870_beam, cutoff: 1.54, floor: 3.39e-16, axisLabels: false, legend: "lower" },
];

const ORANGE = "#FFA500";
const BLUE = "#2e92f2";
const BLUE_LIGHT = "#80bdf7";
const SANS = "Lato, 'DejaVu Sans', sans-serif";
const SERIF = "'Liberation Serif', 'DejaVu Serif', serif";
const MONO = "'DejaVu Sans Mono', monospace";

function logTicks(domain: [number, number]) {
  const out: { v: number; major: boolean; e: number }[] = [];
  const e0 = Math.floor(Math.log10(domain[0]));
  const e1 = Math.ceil(Math.log10(domain[1]));
  for (let e = e0; e <= e1; e++) {
    for (let k = 1; k <= 9; k++) {
      const v = k * Math.pow(10, e);
      if (v >= domain[0] * 0.99999 && v <= domain[1] * 1.00001) out.push({ v, major: k === 1, e });
    }
  }
  return out;
}

function Pow10({ x, y, e, size, anchor, family }: { x: number; y: number; e: number; size: number; anchor: "start" | "middle" | "end"; family: string }) {
  const exp = e < 0 ? `\u2212${Math.abs(e)}` : `${e}`;
  return (
    <text x={x} y={y} textAnchor={anchor} fontFamily={family} fontSize={size} fill="#333">
      10
      <tspan dy={-size * 0.42} fontSize={size * 0.7}>{exp}</tspan>
    </text>
  );
}

function Panel({ p, id }: { p: PanelDef; id: number }) {
  const { l, t, r, b } = p.box;
  const mono = p.style === "mono";
  const x = d3.scaleLog().domain(p.xDomain).range([l, r]);
  const y = d3.scaleLog().domain(p.yDomain).range([b, t]);
  const clip = `plot-clip-${id}`;
  const idx = p.modelR.map((_, i) => i);

  const band = d3.area<number>()
    .x((i) => x(p.modelR[i]))
    .y0((i) => y(p.lo[i]))
    .y1((i) => y(p.hi[i]))(idx) || "";
  const lineOf = (vals: number[]) =>
    d3.line<number>().x((i) => x(p.modelR[i])).y((i) => y(vals[i]))(idx) || "";
  const beamPath = d3.line<XY>().x((d) => x(d[0])).y((d) => y(d[1])).curve(d3.curveMonotoneX)(p.beam) || "";

  const xt = logTicks(p.xDomain);
  const yt = logTicks(p.yDomain);
  const floorY = p.yDomain[0] * 0.05;

  const tickSize = mono ? 7 : 12.5;
  const tickFamily = mono ? MONO : SERIF;

  return (
    <g>
      <defs>
        <clipPath id={clip}>
          <rect x={l} y={t} width={r - l} height={b - t} />
        </clipPath>
      </defs>
      <rect x={l} y={t} width={r - l} height={b - t} fill="#fff" />

      <g clipPath={`url(#${clip})`}>
        <path d={beamPath} fill="none" stroke="#000" strokeWidth={1} strokeDasharray="1,2" />
        <line x1={l} x2={r} y1={y(p.floor)} y2={y(p.floor)} stroke="#a8a8a8" strokeWidth={1.3} strokeDasharray="5.5,2.6" />
        <line x1={x(p.cutoff)} x2={x(p.cutoff)} y1={t} y2={b} stroke="#9a9a9a" strokeWidth={2.6} />
        <path d={band} fill={BLUE} fillOpacity={0.88} stroke="none" />
        <path d={lineOf(p.hi)} fill="none" stroke={BLUE_LIGHT} strokeWidth={1.3} />
        <path d={lineOf(p.lo)} fill="none" stroke={BLUE_LIGHT} strokeWidth={1.3} />
        <path d={lineOf(p.best)} fill="none" stroke={ORANGE} strokeWidth={3.2} strokeLinejoin="round" />
        {p.obs.map(([rad, val, err], i) => {
          const cx = x(rad);
          const lower = val - err > 0 ? val - err : floorY;
          return (
            <g key={i}>
              <line x1={cx} x2={cx} y1={y(lower)} y2={y(val + err)} stroke="#111" strokeWidth={1.25} />
              <line x1={cx - 2.6} x2={cx + 2.6} y1={y(val)} y2={y(val)} stroke="#111" strokeWidth={1.3} />
            </g>
          );
        })}
      </g>

      {/* frame */}
      <rect x={l} y={t} width={r - l} height={b - t} fill="none" stroke="#262626" strokeWidth={1.3} />

      {/* x ticks */}
      {xt.map((tk, i) => (
        <line key={`xt${i}`} x1={x(tk.v)} x2={x(tk.v)} y1={b} y2={b + (tk.major ? 3.8 : 2.1)} stroke="#262626" strokeWidth={0.9} />
      ))}
      {xt.filter((tk) => tk.major).map((tk, i) => (
        <Pow10 key={`xl${i}`} x={x(tk.v)} y={b + (mono ? 12 : 17)} e={tk.e} size={tickSize} anchor="middle" family={tickFamily} />
      ))}

      {/* y ticks */}
      {yt.map((tk, i) => (
        <line key={`yt${i}`} x1={l - (tk.major ? 3.8 : 2.1)} x2={l} y1={y(tk.v)} y2={y(tk.v)} stroke="#262626" strokeWidth={0.9} />
      ))}
      {yt.filter((tk) => tk.major).map((tk, i) => (
        <Pow10 key={`yl${i}`} x={l - (mono ? 6 : 5.5)} y={y(tk.v) + (mono ? 2.5 : 4.5)} e={tk.e} size={tickSize} anchor="end" family={tickFamily} />
      ))}

      {p.title && (
        <text x={l} y={t - 5} fontFamily={mono ? "'DejaVu Sans', sans-serif" : SANS} fontSize={mono ? 18 : 16} fill="#000">
          {p.title}
        </text>
      )}

      {p.axisLabels && !mono && (
        <>
          <text x={(l + r) / 2} y={b + 33} textAnchor="middle" fontFamily={SANS} fontSize={13} fill="#222">Radius (pc)</text>
          <text transform={`translate(${l - 41},${(t + b) / 2}) rotate(-90)`} textAnchor="middle" fontSize={13} fill="#222">
            <tspan fontFamily={SANS}>Intensity </tspan>
            <tspan fontFamily={SERIF}>(erg/cm</tspan>
            <tspan fontFamily={SERIF} fontSize={9} dy={-5}>2</tspan>
            <tspan fontFamily={SERIF} dy={5}>/sr)</tspan>
          </text>
        </>
      )}
      {p.axisLabels && mono && (
        <>
          <text x={(l + r) / 2} y={b + 27} textAnchor="middle" fontFamily={MONO} fontSize={11} fill="#111">Radius (pc)</text>
          <text transform={`translate(${l - 33},${(t + b) / 2}) rotate(-90)`} textAnchor="middle" fontFamily={MONO} fontSize={10.5} fill="#111">
            Intensity (erg/cm<tspan fontSize={7} dy={-4}>2</tspan><tspan dy={4}>/sr)</tspan>
          </text>
        </>
      )}

      {mono ? (
        <text x={l + 20} y={t + 154} fontFamily="'DejaVu Sans', sans-serif" fontSize={15} fill="#000">{p.band}</text>
      ) : (
        <text x={l + 26} y={t + 156} fontFamily="'Liberation Sans', Arial, sans-serif" fontWeight="bold" fontSize={13} letterSpacing={-0.4} fill="#000" stroke="#000" strokeWidth={0.5}>
          {p.band}
        </text>
      )}

      {p.legend === "lower" && (
        <g>
          <rect x={l + 6} y={t + 202} width={130} height={41} rx={3} fill="#fff" fillOpacity={0.85} stroke="#d4d4d4" strokeWidth={1} />
          <line x1={l + 11} x2={l + 40} y1={t + 212} y2={t + 212} stroke={ORANGE} strokeWidth={3.2} />
          <text x={l + 50} y={t + 216} fontFamily={SANS} fontSize={12} fill="#111">Best model</text>
          <line x1={l + 11} x2={l + 40} y1={t + 231} y2={t + 231} stroke={BLUE_LIGHT} strokeWidth={1.5} />
          <text x={l + 50} y={t + 235} fontFamily={SANS} fontSize={12} fill="#111">Best 30 models</text>
        </g>
      )}
      {p.legend === "upper" && (
        <g>
          <rect x={l + 74} y={t + 7} width={161} height={44} rx={3} fill="#fff" fillOpacity={0.85} stroke="#d4d4d4" strokeWidth={1} />
          <line x1={l + 77} x2={l + 107} y1={t + 18} y2={t + 18} stroke={ORANGE} strokeWidth={3.2} />
          <text x={l + 117} y={t + 22} fontFamily={MONO} fontSize={12.5} fill="#111">Best model</text>
          <line x1={l + 77} x2={l + 107} y1={t + 38} y2={t + 38} stroke={BLUE_LIGHT} strokeWidth={1.5} />
          <text x={l + 117} y={t + 42} fontFamily={MONO} fontSize={12.5} fill="#111">Best 30 models</text>
        </g>
      )}
    </g>
  );
}

export default function App() {
  return (
    <svg
      width={1192}
      height={1316}
      viewBox="0 0 1192 1316"
      style={{ position: "absolute", left: 0, top: 0, background: "#fff" }}
    >
      <rect x={0} y={0} width={1192} height={1316} fill="#fff" />
      {panels.map((p, i) => (
        <Panel key={i} p={p} id={i} />
      ))}
    </svg>
  );
}
